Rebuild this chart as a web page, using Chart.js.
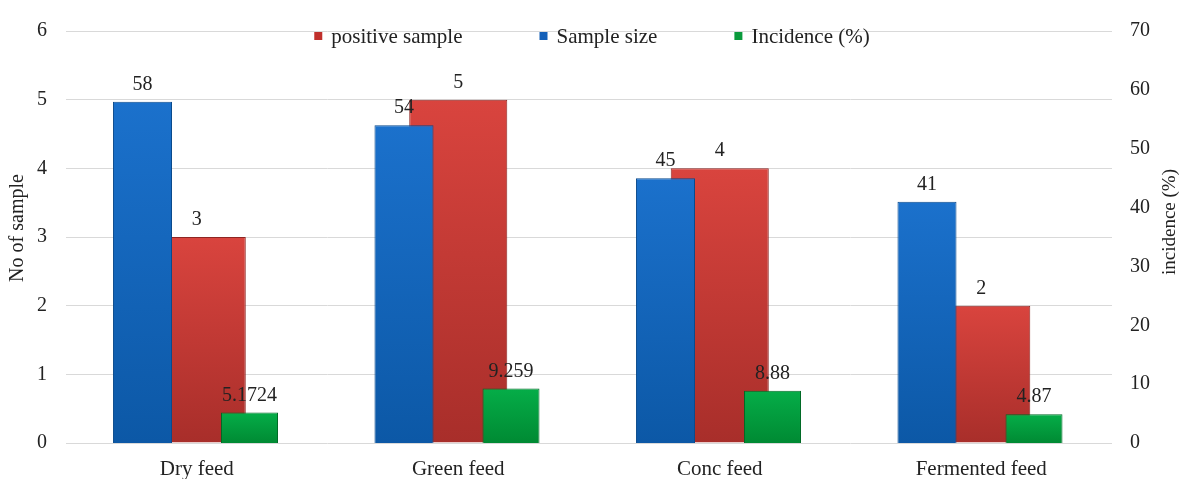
<!DOCTYPE html>
<html>
<head>
<meta charset="utf-8">
<script src="https://cdn.jsdelivr.net/npm/chart.js@4"></script>
<style>
  html, body { margin: 0; padding: 0; background: #fff; }
  #wrap { width: 1182px; height: 479px; }
</style>
</head>
<body>
<div id="wrap"><canvas id="feedChart"></canvas></div>
<script>
var categories = ['Dry feed', 'Green feed', 'Conc feed', 'Fermented feed'];
var positiveSample = [3, 5, 4, 2];
var sampleSize = [58, 54, 45, 41];
var incidence = [5.1724, 9.259, 8.88, 4.87];
var leftTicks = { min: 0, max: 6, step: 1 };
var rightTicks = { min: 0, max: 70, step: 10 };

var serif = 'Liberation Serif, Times New Roman, serif';
var textColor = '#222';

// vertical gradient per bar, light at top, darker at base
function grad(top, bottom) {
  return function (c) {
    var ch = c.chart, a = ch.chartArea;
    if (!a || c.raw == null) return top;
    var s = ch.scales[c.dataset.yAxisID];
    var y = s.getPixelForValue(c.raw);
    var g = ch.ctx.createLinearGradient(0, y, 0, a.bottom);
    g.addColorStop(0, top);
    g.addColorStop(1, bottom);
    return g;
  };
}

var valueLabels = {
  id: 'valueLabels',
  afterDatasetsDraw: function (chart) {
    var ctx = chart.ctx;
    ctx.save();
    ctx.font = '20px ' + serif;
    ctx.fillStyle = textColor;
    ctx.textAlign = 'center';
    ctx.textBaseline = 'alphabetic';
    chart.data.datasets.forEach(function (ds, i) {
      chart.getDatasetMeta(i).data.forEach(function (bar, j) {
        ctx.fillText(String(ds.data[j]), bar.x, bar.y - 12);
      });
    });
    ctx.restore();
  }
};

// legend sits inside the plot, between the 6 and 5 gridlines
var innerLegend = {
  id: 'innerLegend',
  afterDraw: function (chart) {
    var ctx = chart.ctx, a = chart.chartArea;
    var order = [1, 0, 2];
    var gap = 77, box = 8, boxGap = 9, cy = 36;
    ctx.save();
    ctx.font = '21px ' + serif;
    var widths = order.map(function (i) {
      return box + boxGap + ctx.measureText(chart.data.datasets[i].label).width;
    });
    var total = widths.reduce(function (s, w) { return s + w; }, 0) + gap * (order.length - 1);
    var x = (a.left + a.right) / 2 - total / 2 + 3;
    ctx.textBaseline = 'middle';
    ctx.textAlign = 'left';
    order.forEach(function (i, k) {
      var ds = chart.data.datasets[i];
      ctx.fillStyle = ds.legendColor;
      ctx.fillRect(x, cy - box / 2, box, box);
      ctx.fillStyle = textColor;
      ctx.fillText(ds.label, x + box + boxGap, cy + 1);
      x += widths[k] + gap;
    });
    ctx.restore();
  }
};

// both axis titles read bottom-to-top
var axisTitles = {
  id: 'axisTitles',
  afterDraw: function (chart) {
    var ctx = chart.ctx;
    var items = [
      { text: 'No of sample', x: chart.scales.y.left + 18, y: 228, size: 20 },
      { text: 'incidence (%)', x: chart.scales.y2.right - 12, y: 222, size: 19 }
    ];
    items.forEach(function (t) {
      ctx.save();
      ctx.translate(t.x, t.y);
      ctx.rotate(-Math.PI / 2);
      ctx.font = t.size + 'px ' + serif;
      ctx.fillStyle = textColor;
      ctx.textAlign = 'center';
      ctx.textBaseline = 'middle';
      ctx.fillText(t.text, 0, 0);
      ctx.restore();
    });
  }
};

var ctx = document.getElementById('feedChart').getContext('2d');
var chart = new Chart(ctx, {
  type: 'bar',
  data: {
    labels: categories,
    datasets: [
      {
        label: 'Sample size', data: sampleSize, yAxisID: 'y2', order: 1,
        backgroundColor: grad('#1b71cc', '#0c58a6'), borderColor: '#0a4a8c', borderWidth: 1,
        legendColor: '#1560b8', categoryPercentage: 0.83, barPercentage: 0.544
      },
      {
        // centred on the category, partly hidden behind the blue bar
        label: 'positive sample', data: positiveSample, yAxisID: 'y', order: 3, grouped: false,
        backgroundColor: grad('#d9443e', '#a82e2a'), borderColor: '#8e2522', borderWidth: 1,
        legendColor: '#c0302c', categoryPercentage: 0.375, barPercentage: 1
      },
      {
        label: 'Incidence (%)', data: incidence, yAxisID: 'y2', order: 2,
        backgroundColor: grad('#05ad48', '#008a33'), borderColor: '#006a26', borderWidth: 1,
        legendColor: '#0a9a3c', categoryPercentage: 0.807, barPercentage: 0.54
      }
    ]
  },
  options: {
    responsive: true,
    maintainAspectRatio: false,
    animation: false,
    layout: { padding: { top: 22, left: 0, right: 0, bottom: 0 } },
    plugins: {
      legend: { display: false },
      tooltip: { enabled: false }
    },
    scales: {
      x: {
        type: 'category',
        offset: true,
        grid: { display: false },
        border: { display: false },
        ticks: { font: { family: serif, size: 21 }, color: textColor, padding: 6 },
        afterFit: function (s) { s.height = 36; }
      },
      y: {
        position: 'left',
        stacked: false,
        min: leftTicks.min,
        max: leftTicks.max,
        ticks: { stepSize: leftTicks.step, font: { family: serif, size: 20 }, color: textColor, padding: 19 },
        grid: { color: '#d9d9d9', drawTicks: false },
        border: { display: false },
        afterFit: function (s) { s.width = 66; }
      },
      y2: {
        position: 'right',
        stacked: false,
        min: rightTicks.min,
        max: rightTicks.max,
        ticks: { stepSize: rightTicks.step, font: { family: serif, size: 20 }, color: textColor, padding: 18 },
        grid: { display: false, drawTicks: false },
        border: { display: false },
        afterFit: function (s) { s.width = 70; }
      }
    }
  },
  plugins: [valueLabels, innerLegend, axisTitles]
});
</script>
</body>
</html>
